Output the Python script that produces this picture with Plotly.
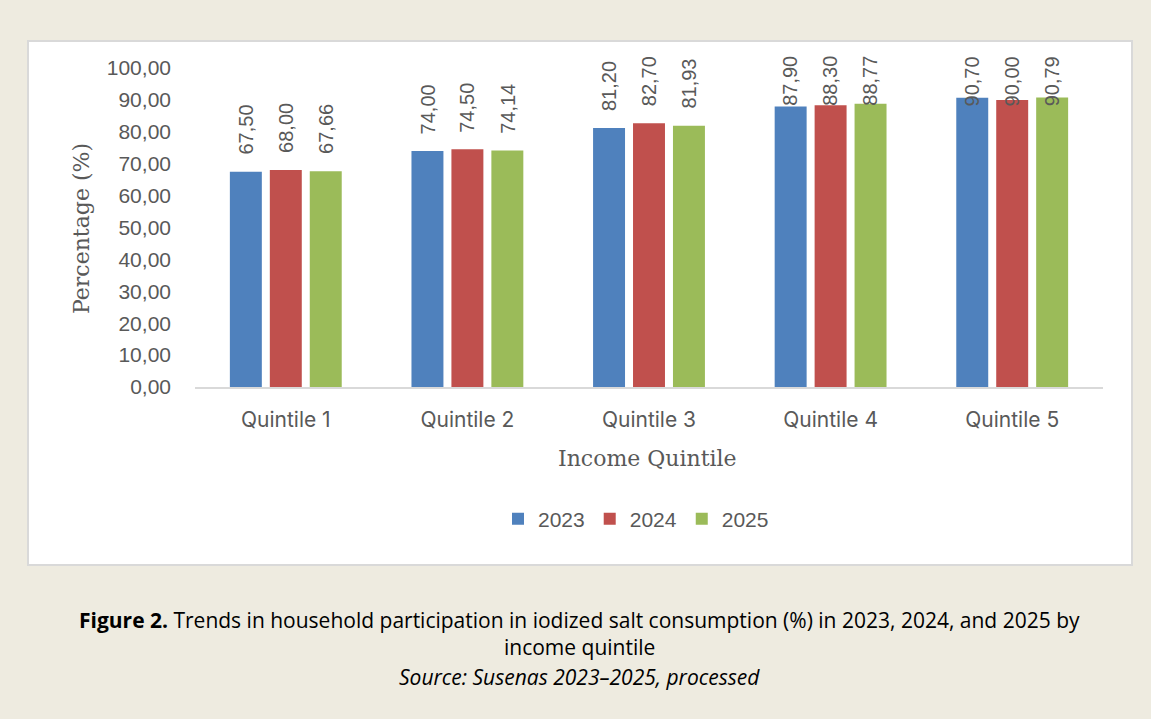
import plotly.graph_objects as go

# Household participation in iodized salt consumption (%) by income quintile
quintiles = ["Quintile 1", "Quintile 2", "Quintile 3", "Quintile 4", "Quintile 5"]
years = ["2023", "2024", "2025"]
values_2023 = [67.50, 74.00, 81.20, 87.90, 90.70]
values_2024 = [68.00, 74.50, 82.70, 88.30, 90.00]
values_2025 = [67.66, 74.14, 81.93, 88.77, 90.79]
colors = ["#4F81BD", "#C0504D", "#9BBB59"]
y_ticks = [0, 10, 20, 30, 40, 50, 60, 70, 80, 90, 100]

series = [values_2023, values_2024, values_2025]

W, H = 1151, 719
PLOT_L, PLOT_R, PLOT_T, PLOT_B = 195, 1103, 68, 387
BARGAP = 0.34
GROUPGAP = 0.2
GREY = "#595959"


def fmt(v):
    return f"{v:.2f}".replace(".", ",")


def px_to_paper_x(px):
    return (px - PLOT_L) / (PLOT_R - PLOT_L)


def px_to_paper_y(py):
    return (PLOT_B - py) / (PLOT_B - PLOT_T)


fig = go.Figure()
for name, vals, col in zip(years, series, colors):
    fig.add_trace(go.Bar(
        x=quintiles, y=vals, name=name,
        marker=dict(color=col, line=dict(width=0)),
        hovertemplate="%{x}<br>" + name + ": %{y:.2f}<extra></extra>",
    ))

# Rotated value labels above each bar, held below the top of the chart area
annotations = []
slot = (1 - BARGAP) / len(series)
label_gap = 4.7      # data units between bar top and label
label_cap = 87.4     # highest label baseline allowed
for j, vals in enumerate(series):
    for i, v in enumerate(vals):
        annotations.append(dict(
            x=i + (j - (len(series) - 1) / 2) * slot, y=min(v + label_gap, label_cap),
            xref="x", yref="y", text=fmt(v), showarrow=False,
            textangle=-90, xanchor="center", yanchor="bottom",
            font=dict(family="Liberation Sans, Arial", size=20, color=GREY),
        ))

# Axis titles
title_font = dict(family="DejaVu Serif, Liberation Serif", size=22, color=GREY)
annotations.append(dict(
    x=px_to_paper_x(81), y=px_to_paper_y(229), xref="paper", yref="paper",
    xanchor="center", yanchor="middle",
    text="Percentage (%)", showarrow=False, textangle=-90, font=title_font,
))
annotations.append(dict(
    x=px_to_paper_x(647), y=px_to_paper_y(458), xref="paper", yref="paper",
    xanchor="center", yanchor="middle",
    text="Income Quintile", showarrow=False, font=title_font,
))

# Figure caption
cap_x = px_to_paper_x(579)
caption_font = dict(family="Open Sans, Inter", size=21, color="#000000")
caption_lines = [
    (620, "<b>Figure 2.</b> Trends in household participation in iodized salt consumption (%) in 2023, 2024, and 2025 by"),
    (647, "income quintile"),
    (677, "<i>Source: Susenas 2023\u20132025, processed</i>"),
]
for py, txt in caption_lines:
    annotations.append(dict(
        x=cap_x, y=px_to_paper_y(py), xref="paper", yref="paper",
        xanchor="center", yanchor="middle", showarrow=False,
        text=txt, font=caption_font,
    ))

# White chart panel with a light border
shapes = [dict(
    type="rect", xref="paper", yref="paper", layer="below",
    x0=px_to_paper_x(28), x1=px_to_paper_x(1132),
    y0=px_to_paper_y(565), y1=px_to_paper_y(41),
    fillcolor="#FFFFFF", line=dict(color="#D9D9D9", width=2),
)]

fig.update_layout(
    width=W, height=H,
    margin=dict(l=PLOT_L, r=W - PLOT_R, t=PLOT_T, b=H - PLOT_B),
    paper_bgcolor="#EEEBE0", plot_bgcolor="rgba(0,0,0,0)",
    barmode="group", bargap=BARGAP, bargroupgap=GROUPGAP,
    showlegend=True,
    legend=dict(
        orientation="h", x=px_to_paper_x(636), xanchor="center",
        y=px_to_paper_y(519), yanchor="middle",
        bgcolor="rgba(0,0,0,0)",
        font=dict(family="Liberation Sans, Arial", size=21, color=GREY),
        itemwidth=30, traceorder="normal",
    ),
    annotations=annotations, shapes=shapes,
    xaxis=dict(
        showline=True, linecolor="#D9D9D9", linewidth=1.5,
        showgrid=False, ticks="", ticklabelstandoff=13,
        tickfont=dict(family="Inter, Open Sans", size=21, color=GREY),
    ),
    yaxis=dict(
        range=[0, 100], tickvals=y_ticks, ticktext=[fmt(t) for t in y_ticks],
        showline=False, showgrid=False, zeroline=False, ticks="",
        ticklabelstandoff=23,
        tickfont=dict(family="Liberation Sans, Arial", size=21, color=GREY),
    ),
)

fig.write_html("out.html")
